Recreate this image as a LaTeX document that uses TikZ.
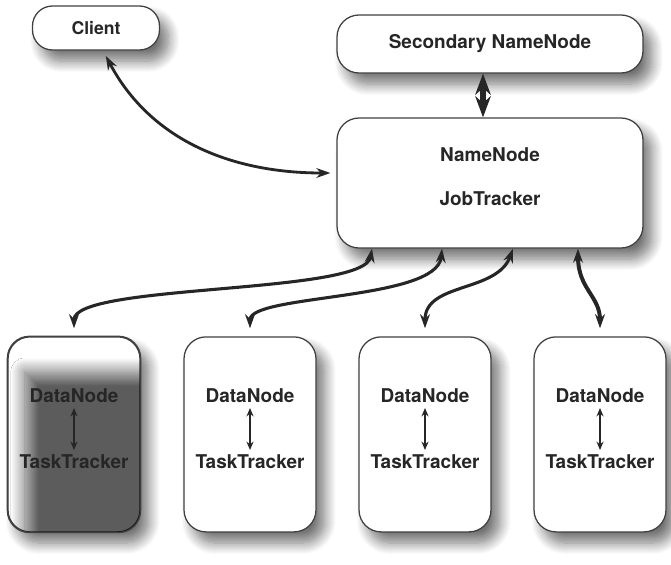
\documentclass[tikz,border=0pt]{standalone}
\usepackage{fontspec}
\setmainfont{TeX Gyre Heros}
\usetikzlibrary{arrows.meta,shadows.blur}

\begin{document}
\begin{tikzpicture}[
  box/.style={draw=black!75, line width=0.9pt, rounded corners=0.55cm, fill=white,
    blur shadow={shadow xshift=0.22cm, shadow yshift=-0.28cm, shadow blur radius=0.28cm,
      shadow blur steps=12, shadow opacity=55}},
  lbl/.style={font=\fontsize{13.5}{16}\selectfont\bfseries, text=black!85},
  link/.style={line width=2.2pt, black!85, {Stealth[length=10pt,width=7pt]}-{Stealth[length=10pt,width=7pt]}},
  pair/.style={line width=1.6pt, black!85, {Stealth[length=6pt,width=5pt]}-{Stealth[length=6pt,width=5pt]}}
]
\useasboundingbox (0,0) rectangle (16.775,14.1);
%\draw [help lines] (0,0) grid (17,14);
\node [box, rounded corners=0.5cm, minimum width=3.175cm, minimum height=1.1cm,
  lbl, font=\fontsize{12.5}{15}\selectfont\bfseries] (cl) at (2.4,13.4) {Client};
\node [box, minimum width=7.65cm, minimum height=1.45cm, lbl] (sec) at (12.25,13.0) {Secondary NameNode};
\node [box, minimum width=7.65cm, minimum height=3.25cm] (nn) at (12.25,9.525) {};
\node [lbl] (nnlbl) at (12.25,10.225) {NameNode};
\node [lbl] (jtlbl) at (12.25,9.125) {JobTracker};

\foreach \i/\x in {1/1.85,2/6.25,3/10.625,4/15.0}
  \node [box, minimum width=3.3cm, minimum height=4.875cm] (b\i) at (\x,3.24) {};

% dark inside of the first worker
\begin{scope}
\clip [rounded corners=0.55cm] (b1.south west) rectangle (b1.north east);
\path [blur shadow={shadow xshift=0cm, shadow yshift=0cm, shadow blur radius=0.35cm,
    shadow blur steps=20, shadow opacity=64}]
  (0.62,-0.2) rectangle (4.2,4.8);
\end{scope}
\draw [black!75, line width=0.9pt, rounded corners=0.55cm] (b1.south west) rectangle (b1.north east);

\foreach \i/\x in {1/1.85,2/6.25,3/10.625,4/15.0} {
  \node [lbl] (dn\i) at (\x,4.2) {DataNode};
  \node [lbl] (tt\i) at (\x,2.55) {TaskTracker};
  \draw [pair] (dn\i.south) -- (tt\i.north);
}

\draw [link, line width=2pt, shorten <=1.5mm, shorten >=1.5mm]
  ([xshift=1.75mm]cl.south) to[out=-62, in=180] ([yshift=2.5mm]nn.west);
\draw [link, line width=3.6pt, {Stealth[length=15pt,width=11pt]}-{Stealth[length=15pt,width=11pt]}]
  ([xshift=-1.75mm]sec.south) -- ([xshift=-1.75mm]nn.north);

\draw [link, shorten >=2mm] ([xshift=-2.95cm]nn.south) .. controls +(-0.2,-1.15) and +(0,1.32) .. (b1.north);
\draw [link, shorten >=2mm] ([xshift=-1.2cm]nn.south) .. controls +(-0.125,-1.3) and +(0,1.05) .. (b2.north);
\draw [link, shorten >=2mm] ([xshift=0.575cm]nn.south) .. controls +(-0.4,-1.1) and +(0,1.35) .. (b3.north);
\draw [link, line width=2.8pt, shorten >=2mm] ([xshift=2.2cm]nn.south) .. controls +(0,-1.0) and +(0,1.0) .. (b4.north);
\end{tikzpicture}
\end{document}
